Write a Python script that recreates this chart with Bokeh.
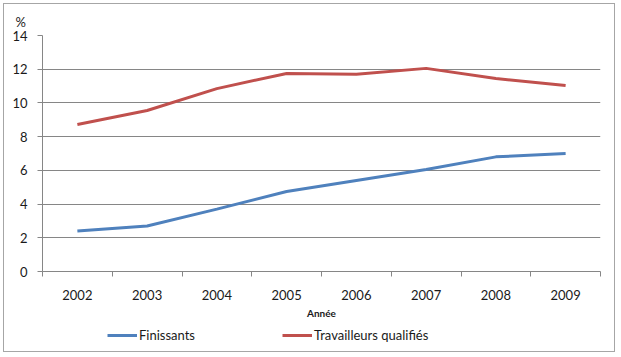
from bokeh.plotting import figure
from bokeh.layouts import column
from bokeh.models import Range1d, FixedTicker, Legend, LegendItem, Title, NumeralTickFormatter
from bokeh.embed import file_html
from bokeh.resources import INLINE

years = [2002, 2003, 2004, 2005, 2006, 2007, 2008, 2009]
finissants = [2.4, 2.7, 3.7, 4.75, 5.4, 6.05, 6.8, 7.0]
travailleurs = [8.72, 9.55, 10.85, 11.75, 11.7, 12.05, 11.45, 11.03]
y_ticks = [0, 2, 4, 6, 8, 10, 12, 14]
series_names = ["Finissants", "Travailleurs qualifiés"]
series_colors = ["#4F81BD", "#C0504D"]

FONT = "Lato"
BORDER = "1px solid #a6a6a6"

p = figure(width=612, height=327, output_backend="svg", toolbar_location=None,
           x_range=Range1d(years[0] - 0.5, years[-1] + 0.5), y_range=Range1d(0, 14),
           min_border_left=38, min_border_right=16, min_border_top=31, min_border_bottom=60)
p.styles = {"border-left": BORDER, "border-right": BORDER, "border-top": BORDER,
            "margin-left": "3px", "margin-top": "3px"}
p.outline_line_color = None

p.line(years, finissants, line_color=series_colors[0], line_width=3)
p.line(years, travailleurs, line_color=series_colors[1], line_width=3)

xa = p.xaxis[0]
xa.ticker = FixedTicker(ticks=years, minor_ticks=[y - 0.5 for y in years] + [years[-1] + 0.5])
xa.major_tick_out = 0
xa.major_tick_in = 0
xa.minor_tick_out = 5
xa.minor_tick_in = 0
xa.minor_tick_line_color = "#868686"
xa.axis_line_color = "#868686"
xa.major_label_text_font = FONT
xa.major_label_text_font_size = "13px"
xa.major_label_text_color = "#1a1a1a"
xa.major_label_standoff = 13
xa.axis_label = "Année"
xa.axis_label_text_font = FONT
xa.axis_label_text_font_style = "bold"
xa.axis_label_text_font_size = "10px"
xa.axis_label_text_color = "#1a1a1a"
xa.axis_label_standoff = 4
xa.formatter = NumeralTickFormatter(format="0")

ya = p.yaxis[0]
ya.ticker = FixedTicker(ticks=y_ticks)
ya.major_tick_out = 5
ya.major_tick_in = 0
ya.minor_tick_out = 0
ya.minor_tick_in = 0
ya.major_tick_line_color = "#868686"
ya.axis_line_color = "#868686"
ya.major_label_text_font = FONT
ya.major_label_text_font_size = "13px"
ya.major_label_text_color = "#1a1a1a"
ya.major_label_standoff = 10

p.xgrid.grid_line_color = None
p.ygrid.ticker = FixedTicker(ticks=y_ticks)
p.ygrid.grid_line_color = "#868686"
p.ygrid.grid_line_width = 1

p.add_layout(Title(text="%", text_font=FONT, text_font_size="13px", text_color="#1a1a1a",
                   text_font_style="normal", align="left", offset=-27, standoff=12), "above")

# legend strip below the chart (its key lines use the real data, outside the strip's view)
p2 = figure(width=612, height=22, output_backend="svg", toolbar_location=None,
            x_range=Range1d(0, 1), y_range=Range1d(0, 1),
            min_border_left=0, min_border_right=0, min_border_top=0, min_border_bottom=0)
p2.styles = {"border-left": BORDER, "border-right": BORDER, "border-bottom": BORDER,
             "margin-left": "3px"}
p2.outline_line_color = None
p2.xaxis.visible = False
p2.yaxis.visible = False
p2.xgrid.visible = False
p2.ygrid.visible = False

k1 = p2.line(years, finissants, line_color=series_colors[0], line_width=3)
k2 = p2.line(years, travailleurs, line_color=series_colors[1], line_width=3)
legend = Legend(items=[LegendItem(label=series_names[0], renderers=[k1]),
                       LegendItem(label=series_names[1], renderers=[k2])],
                orientation="horizontal", location=(65, 9),
                label_text_font=FONT, label_text_font_size="13px", label_text_color="#1a1a1a",
                glyph_width=30, glyph_height=14, label_height=14,
                label_standoff=2, spacing=87,
                border_line_color=None, background_fill_alpha=0,
                padding=0, margin=0)
p2.add_layout(legend)

layout = column(p, p2, spacing=0)
open("out.html", "w").write(file_html(layout, INLINE))
